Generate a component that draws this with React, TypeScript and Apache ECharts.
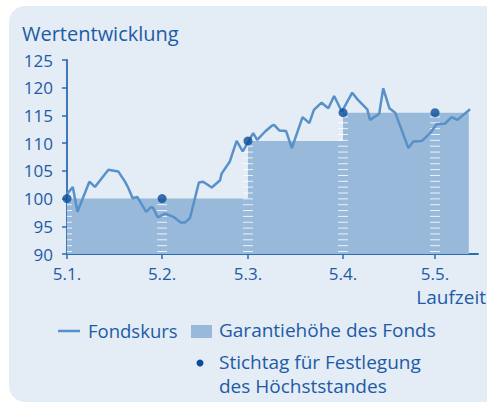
import React, { useEffect, useRef } from "react";
import * as echarts from "echarts";

// Fund price (Fondskurs): day offset from 5.1. and value
const fundDays = [0, 1.9, 3.4, 7.3, 9.1, 13.5, 16.7, 18.9, 20, 21.4, 22.9, 25.8, 27.3, 28, 29.6, 32, 34.7, 37.1, 38.5, 40.1, 43, 44.4, 47.2, 49.9, 50.4, 53.1, 55.3, 57.3, 60.7, 62, 64.6, 66.7, 67.5, 69.2, 71.4, 73.3, 76.8, 79, 80.5, 83, 85.2, 87.1, 89.6, 93, 94.7, 97.9, 98.8, 101.8, 103.1, 105.1, 107, 111.3, 112.9, 115.7, 118.4, 120.5, 123.2, 125.4, 127.3, 131.4];
const fundValues = [100.8, 102.1, 97.6, 103.05, 102.1, 105.2, 104.9, 103.05, 101.9, 100.05, 100.3, 97.6, 98.4, 98.4, 96.6, 97.3, 96.7, 95.7, 95.7, 96.5, 102.9, 103.05, 102.0, 103.3, 104.5, 106.7, 110.4, 108.5, 111.8, 110.6, 112.1, 113.1, 113.3, 112.3, 112.2, 109.1, 114.7, 113.6, 116.0, 117.3, 116.3, 118.5, 115.7, 119.1, 117.9, 116.1, 114.2, 115.3, 119.9, 116.3, 115.5, 109.1, 110.3, 110.4, 111.8, 113.4, 113.5, 114.7, 114.2, 116.1];

// Guarantee level (Garantiehöhe) steps
const guaranteeDays = [0, 59, 90, 131];
const guaranteeValues = [100, 110.4, 115.5, 115.5];

// Reference dates (Stichtag)
const stichtagDays = [0, 31, 59, 90, 120];
const stichtagValues = [100, 100, 110.4, 115.5, 115.5];
const tickLabels = ["5.1.", "5.2.", "5.3.", "5.4.", "5.5."];

const FONT = "'Open Sans', sans-serif";
const TEXT = "#1d5ba6";
const FILL = "#99b9da";
const LINE = "#5890c8";
const DOT = "#0b4d9b";
const AXIS = "#2c6cb2";

export default function App() {
  const ref = useRef<HTMLDivElement>(null);
  useEffect(() => {
    const chart = echarts.init(ref.current!, null, { renderer: "svg" });
    chart.setOption({
      animation: false,
      grid: { left: 67, right: 9, top: 60, bottom: 149 },
      xAxis: {
        type: "value",
        min: 0,
        max: 134,
        splitLine: { show: false },
        axisLine: { show: true, lineStyle: { color: AXIS, width: 1.8 } },
        axisTick: { show: true, length: 5, customValues: stichtagDays, lineStyle: { color: AXIS, width: 1.5 } },
        axisLabel: {
          customValues: stichtagDays,
          formatter: (v: number) => tickLabels[stichtagDays.indexOf(v)] ?? "",
          color: TEXT,
          fontFamily: FONT,
          fontSize: 17,
          margin: 11,
        },
      },
      yAxis: {
        type: "value",
        min: 90,
        max: 125,
        interval: 5,
        splitLine: { show: false },
        axisLine: { show: true, lineStyle: { color: AXIS, width: 1.8 } },
        axisTick: { show: true, length: 5, lineStyle: { color: AXIS, width: 1.5 } },
        axisLabel: { color: TEXT, fontFamily: FONT, fontSize: 17, margin: 14 },
      },
      series: [
        {
          type: "line",
          data: guaranteeDays.map((d, i) => [d, guaranteeValues[i]]),
          step: "end",
          showSymbol: false,
          lineStyle: { width: 0 },
          areaStyle: { color: FILL, opacity: 1, origin: "start" },
          z: 1,
        },
        {
          type: "custom",
          data: stichtagDays.map((d, i) => [d, stichtagValues[i]]),
          clip: true,
          z: 2,
          renderItem: (params: any, api: any) => {
            const x = api.value(0);
            const top = api.value(1);
            const pTop = api.coord([x, top]);
            const pBot = api.coord([x, 90]);
            const children: any[] = [];
            for (let y = pBot[1] - 2.5; y > pTop[1] + 4; y -= 5.85) {
              children.push({
                type: "line",
                shape: { x1: pTop[0] - 5, y1: y, x2: pTop[0] + 5, y2: y },
                style: { stroke: "rgba(255,255,255,0.8)", lineWidth: 1 },
              });
            }
            return { type: "group", children };
          },
        },
        {
          type: "line",
          data: fundDays.map((d, i) => [d, fundValues[i]]),
          showSymbol: false,
          lineStyle: { color: LINE, width: 2.5 },
          z: 3,
        },
        {
          type: "scatter",
          data: stichtagDays.map((d, i) => [d, stichtagValues[i]]),
          symbolSize: 9,
          itemStyle: { color: DOT },
          z: 4,
          clip: false,
        },
      ],
      graphic: [
        {
          type: "rect",
          z: -10,
          silent: true,
          shape: { x: 9, y: 6, width: 500, height: 396, r: [16, 0, 0, 16] },
          style: { fill: "#e4ecf5" },
        },
        {
          type: "text",
          x: 22,
          y: 33,
          style: { text: "Wertentwicklung", fill: TEXT, font: `20px ${FONT}`, textVerticalAlign: "middle" },
        },
        {
          type: "text",
          x: 486,
          y: 297,
          style: { text: "Laufzeit", fill: TEXT, font: `19px ${FONT}`, textAlign: "right", textVerticalAlign: "middle" },
        },
        { type: "line", shape: { x1: 58, y1: 331, x2: 80, y2: 331 }, style: { stroke: LINE, lineWidth: 2.5 } },
        { type: "text", x: 88, y: 330, style: { text: "Fondskurs", fill: TEXT, font: `18.5px ${FONT}`, textVerticalAlign: "middle" } },
        { type: "rect", shape: { x: 191, y: 325, width: 21, height: 13 }, style: { fill: FILL } },
        { type: "text", x: 219, y: 330, style: { text: "Garantiehöhe des Fonds", fill: TEXT, font: `19px ${FONT}`, textVerticalAlign: "middle" } },
        { type: "circle", shape: { cx: 200, cy: 363, r: 3.5 }, style: { fill: DOT } },
        { type: "text", x: 219, y: 362, style: { text: "Stichtag für Festlegung", fill: TEXT, font: `19px ${FONT}`, textVerticalAlign: "middle" } },
        { type: "text", x: 219, y: 386, style: { text: "des Höchststandes", fill: TEXT, font: `19px ${FONT}`, textVerticalAlign: "middle" } },
      ],
    });
    return () => chart.dispose();
  }, []);
  return (
    <div
      ref={ref}
      style={{ position: "fixed", left: 0, top: 0, width: 487, height: 403, background: "#ffffff" }}
    />
  );
}
